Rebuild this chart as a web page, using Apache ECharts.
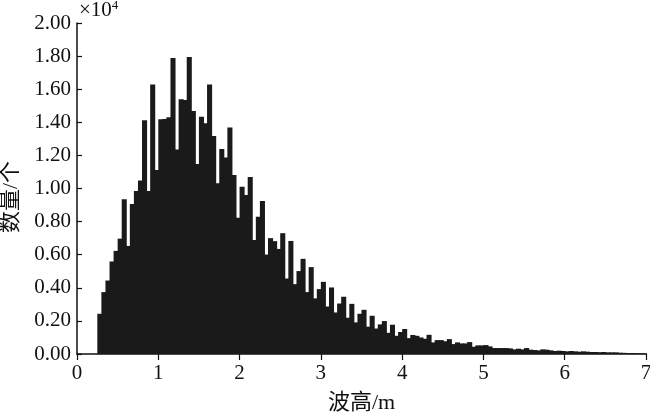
<!DOCTYPE html>
<html>
<head>
<meta charset="utf-8">
<script src="https://cdn.jsdelivr.net/npm/echarts@6/dist/echarts.min.js"></script>
<style>
  html, body { margin: 0; padding: 0; background: #fff; }
  #main { width: 650px; height: 415px; }
</style>
</head>
<body>
<div id="main"></div>
<script>
// 波高分布直方图，组距 0.05 m，数量单位 ×10^4
const binStart = 0.25;
const binWidth = 0.05;
const counts = [
  0.243, 0.374, 0.444, 0.559, 0.623, 0.697, 0.935, 0.653, 0.906, 0.985,
  1.049, 1.413, 0.985, 1.628, 1.112, 1.419, 1.420, 1.431, 1.789, 1.236,
  1.540, 1.534, 1.795, 1.469, 1.148, 1.433, 1.395, 1.628, 1.317, 1.031,
  1.238, 1.188, 1.369, 1.081, 0.824, 1.011, 0.961, 1.069, 0.689, 0.830,
  0.925, 0.601, 0.700, 0.682, 0.635, 0.730, 0.456, 0.683, 0.422, 0.501,
  0.575, 0.374, 0.525, 0.336, 0.392, 0.436, 0.287, 0.402, 0.251, 0.305,
  0.346, 0.219, 0.303, 0.191, 0.243, 0.267, 0.165, 0.231, 0.154, 0.179,
  0.199, 0.128, 0.177, 0.110, 0.133, 0.151, 0.096, 0.115, 0.110, 0.100,
  0.092, 0.116, 0.070, 0.084, 0.084, 0.077, 0.090, 0.060, 0.070, 0.064,
  0.064, 0.072, 0.044, 0.052, 0.052, 0.054, 0.046, 0.036, 0.036, 0.036,
  0.036, 0.034, 0.028, 0.032, 0.028, 0.036, 0.026, 0.024, 0.022, 0.028,
  0.026, 0.022, 0.018, 0.020, 0.018, 0.016, 0.018, 0.016, 0.014, 0.016,
  0.014, 0.012, 0.012, 0.011, 0.012, 0.010, 0.010, 0.010, 0.008, 0.007,
  0.006, 0.006, 0.005, 0.004, 0.004
];
const xTicks = [0, 1, 2, 3, 4, 5, 6, 7];
const yMax = 2.0;
const yStep = 0.2;

const font = '"Liberation Serif", "Times New Roman", "Noto Sans CJK SC", serif';
const fs = 21;

const histData = counts.map(function (v, i) {
  const x0 = +(binStart + i * binWidth).toFixed(2);
  return [x0, +(x0 + binWidth).toFixed(2), v];
});

const chart = echarts.init(document.getElementById('main'), null, { renderer: 'canvas' });

const option = {
  animation: false,
  backgroundColor: '#fff',
  grid: { left: 77, right: 4, top: 23, bottom: 61, containLabel: false, outerBoundsMode: 'none' },
  xAxis: {
    type: 'value',
    min: xTicks[0],
    max: xTicks[xTicks.length - 1],
    interval: 1,
    name: '波高/m',
    nameLocation: 'middle',
    nameGap: 38,
    nameTextStyle: { fontFamily: font, fontSize: 22, color: '#111' },
    axisLine: { lineStyle: { color: '#111', width: 1.5 } },
    axisTick: { inside: false, length: 6, lineStyle: { color: '#111', width: 1.2 } },
    axisLabel: { fontFamily: font, fontSize: fs, color: '#111', margin: 9 },
    splitLine: { show: false }
  },
  yAxis: {
    type: 'value',
    min: 0,
    max: yMax,
    interval: yStep,
    name: '×10{sup|4}',
    nameLocation: 'end',
    nameGap: 2,
    nameTextStyle: {
      fontFamily: font, fontSize: fs, color: '#111', align: 'left', padding: [0, 0, 0, 2],
      lineHeight: 22,
      rich: { sup: { fontFamily: font, fontSize: 13, color: '#111', verticalAlign: 'top', lineHeight: 22 } }
    },
    axisLine: { show: true, lineStyle: { color: '#111', width: 1.5 } },
    axisTick: { show: true, inside: true, length: 5, lineStyle: { color: '#111', width: 1.2 } },
    axisLabel: {
      fontFamily: font, fontSize: fs, color: '#111', margin: 6,
      formatter: function (v) { return v.toFixed(2); }
    },
    splitLine: { show: false }
  },
  series: [{
    type: 'custom',
    name: '数量',
    renderItem: function (params, api) {
      const p0 = api.coord([api.value(0), api.value(2)]);
      const p1 = api.coord([api.value(1), 0]);
      // 相邻柱子略微重叠，避免抗锯齿留下白缝
      return {
        type: 'rect',
        shape: { x: p0[0], y: p0[1], width: p1[0] - p0[0] + 1, height: p1[1] - p0[1] },
        style: { fill: '#1a1a1a' }
      };
    },
    encode: { x: [0, 1], y: 2 },
    data: histData
  }],
  graphic: [{
    type: 'text',
    x: 11,
    y: 197,
    rotation: Math.PI / 2,
    style: {
      text: '数量/个', fontFamily: font, fontSize: 22, fill: '#111',
      textAlign: 'center', textVerticalAlign: 'middle'
    }
  }]
};

chart.setOption(option);
</script>
</body>
</html>
